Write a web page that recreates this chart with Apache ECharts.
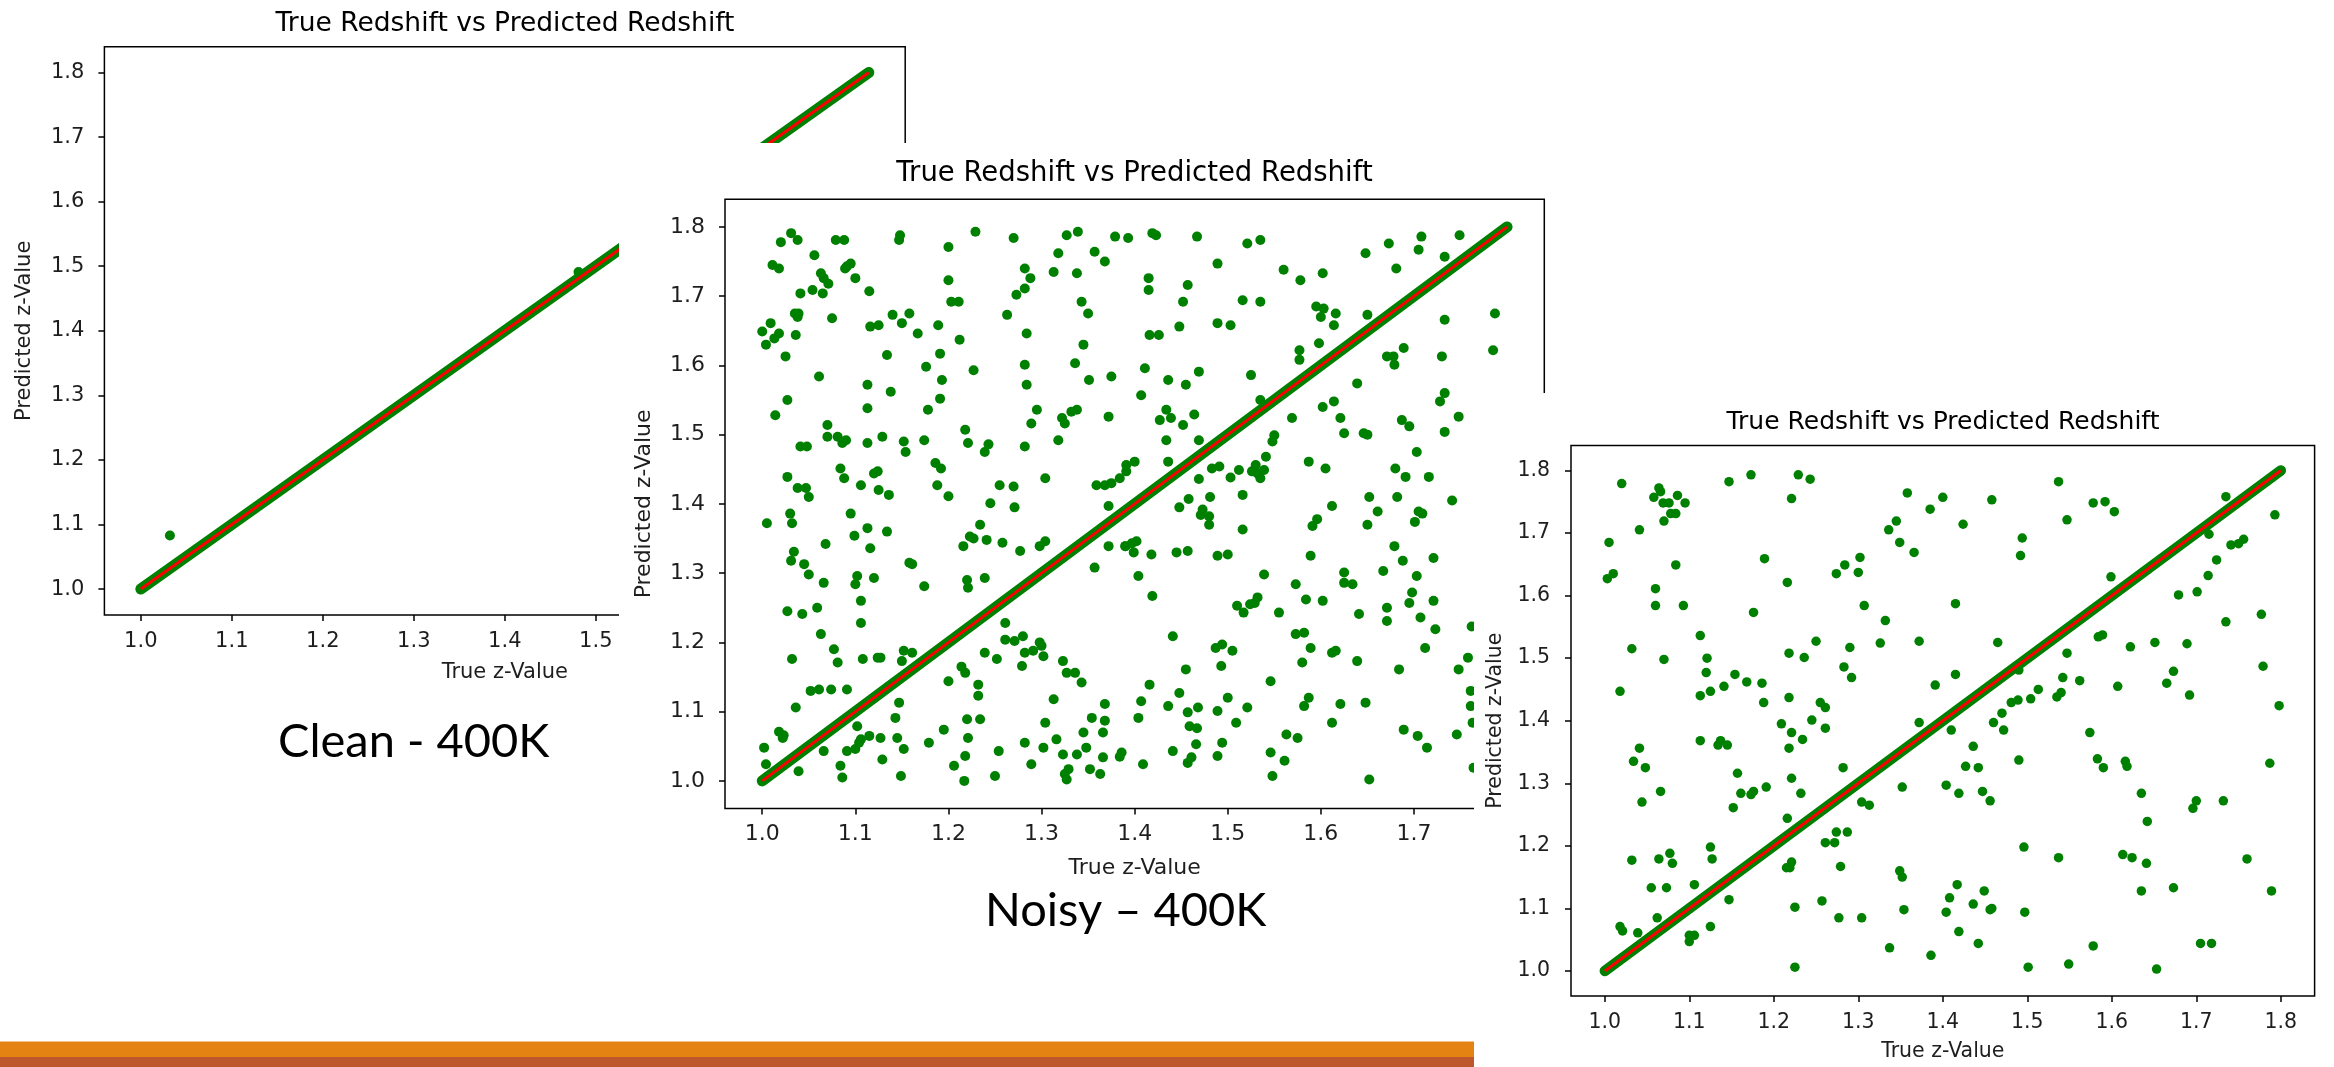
<!DOCTYPE html>
<html>
<head>
<meta charset="utf-8">
<script src="https://cdn.jsdelivr.net/npm/echarts@6/dist/echarts.min.js"></script>
<style>
  html, body { margin:0; padding:0; width:2334px; height:1067px; background:#ffffff; overflow:hidden; }
  .pane { position:absolute; }
</style>
</head>
<body>
<div id="c1" class="pane" style="left:0;top:0;width:1000px;height:720px;z-index:1;"></div>
<div id="c2" class="pane" style="left:619px;top:143px;width:950px;height:750px;z-index:2;background:#fff;"></div>
<div id="c3" class="pane" style="left:1474px;top:393px;width:860px;height:674px;z-index:3;background:#fff;"></div>
<div id="deco" class="pane" style="left:0;top:0;width:2334px;height:1067px;z-index:4;pointer-events:none;"></div>
<script>
// ---------- data ----------
const tickValues = [1.0, 1.1, 1.2, 1.3, 1.4, 1.5, 1.6, 1.7, 1.8];
const titleText = 'True Redshift vs Predicted Redshift';
const xName = 'True z-Value';
const yName = 'Predicted z-Value';
const slideLabels = ['Clean - 400K', 'Noisy \u2013 400K'];

// dense diagonal of predictions (y = x) and the red reference line
const diagonal = [[1.0, 1.0], [1.8, 1.8]];

// outliers, clean set
const cleanOutliers = [[1.032, 1.083], [1.481, 1.491]];

// outliers, noisy set (middle chart)
const noisyOutliers = [
[1.031,1.791],[1.020,1.778],[1.038,1.781],[1.079,1.781],[1.088,1.781],[1.148,1.788],[1.147,1.781],[1.229,1.793],[1.270,1.784],[1.327,1.788],[1.339,1.793],[1.379,1.786],[1.393,1.784],[1.200,1.771],[1.056,1.759],[1.318,1.762],[1.357,1.764],[1.368,1.750],[1.011,1.745],[1.018,1.740],[1.095,1.747],[1.091,1.743],[1.089,1.740],[1.282,1.740],[1.313,1.735],[1.338,1.733],[1.063,1.733],[1.066,1.726],[1.071,1.718],[1.100,1.726],[1.200,1.723],[1.288,1.726],[1.041,1.704],[1.054,1.709],[1.065,1.704],[1.115,1.707],[1.282,1.711],[1.273,1.702],[1.203,1.692],[1.211,1.692],[1.343,1.692],[1.035,1.675],[1.039,1.675],[1.038,1.670],[1.075,1.668],[1.140,1.673],[1.158,1.675],[1.150,1.661],[1.350,1.675],[1.263,1.673],[1.009,1.661],[1.000,1.649],[1.018,1.646],[1.013,1.639],[1.004,1.630],[1.036,1.644],[1.116,1.656],[1.125,1.658],[1.189,1.658],[1.167,1.646],[1.212,1.637],[1.284,1.646],[1.025,1.613],[1.134,1.615],[1.191,1.617],[1.345,1.630],[1.176,1.598],[1.227,1.593],[1.282,1.601],[1.336,1.603],[1.061,1.584],[1.193,1.579],[1.351,1.579],[1.375,1.584],[1.113,1.572],[1.138,1.562],[1.284,1.572],[1.027,1.550],[1.191,1.552],[1.014,1.528],[1.113,1.538],[1.178,1.536],[1.295,1.536],[1.332,1.533],[1.338,1.536],[1.289,1.516],[1.322,1.524],[1.325,1.516],[1.372,1.526],[1.070,1.514],[1.070,1.497],[1.081,1.497],[1.090,1.492],[1.086,1.488],[1.041,1.483],[1.048,1.483],[1.113,1.488],[1.129,1.497],[1.152,1.490],[1.154,1.475],[1.174,1.492],[1.218,1.507],[1.221,1.488],[1.243,1.486],[1.239,1.475],[1.282,1.483],[1.318,1.492],[1.186,1.459],[1.192,1.451],[1.084,1.451],[1.124,1.447],[1.120,1.444],[1.027,1.439],[1.088,1.437],[1.038,1.423],[1.047,1.423],[1.050,1.410],[1.106,1.427],[1.125,1.420],[1.136,1.413],[1.188,1.427],[1.200,1.411],[1.255,1.427],[1.270,1.425],[1.304,1.437],[1.359,1.427],[1.368,1.427],[1.375,1.430],[1.384,1.437],[1.391,1.447],[1.391,1.456],
[1.419,1.791],[1.423,1.788],[1.467,1.786],[1.521,1.776],[1.535,1.781],[1.648,1.762],[1.673,1.776],[1.708,1.786],[1.705,1.767],[1.749,1.788],[1.733,1.757],[1.489,1.747],[1.560,1.738],[1.578,1.723],[1.602,1.733],[1.681,1.740],[1.415,1.726],[1.415,1.709],[1.457,1.716],[1.452,1.692],[1.516,1.694],[1.535,1.692],[1.595,1.685],[1.603,1.682],[1.600,1.670],[1.616,1.675],[1.614,1.658],[1.650,1.673],[1.787,1.675],[1.733,1.666],[1.448,1.656],[1.489,1.661],[1.503,1.658],[1.416,1.644],[1.426,1.644],[1.577,1.622],[1.577,1.608],[1.598,1.632],[1.689,1.625],[1.671,1.613],[1.678,1.613],[1.679,1.601],[1.730,1.613],[1.785,1.622],[1.411,1.596],[1.469,1.591],[1.436,1.579],[1.455,1.572],[1.525,1.586],[1.639,1.574],[1.407,1.557],[1.535,1.550],[1.602,1.540],[1.614,1.548],[1.733,1.560],[1.728,1.548],[1.434,1.536],[1.427,1.521],[1.439,1.524],[1.452,1.514],[1.464,1.529],[1.569,1.524],[1.621,1.524],[1.687,1.521],[1.695,1.512],[1.748,1.526],[1.625,1.502],[1.646,1.502],[1.650,1.500],[1.733,1.504],[1.434,1.492],[1.469,1.492],[1.550,1.499],[1.548,1.490],[1.703,1.475],[1.436,1.461],[1.541,1.468],[1.587,1.461],[1.605,1.451],[1.530,1.456],[1.532,1.444],[1.526,1.447],[1.535,1.437],[1.539,1.449],[1.483,1.451],[1.491,1.454],[1.512,1.449],[1.503,1.438],[1.469,1.436],[1.680,1.451],[1.691,1.439],[1.716,1.439],[1.458,1.407],[1.481,1.410],[1.516,1.413],[1.652,1.410],[1.682,1.410],[1.741,1.405],[1.400,1.461],
[1.030,1.386],[1.005,1.372],[1.032,1.372],[1.095,1.386],[1.245,1.401],[1.271,1.395],[1.372,1.397],[1.113,1.365],[1.099,1.354],[1.134,1.360],[1.234,1.370],[1.068,1.342],[1.116,1.336],[1.034,1.331],[1.031,1.318],[1.045,1.313],[1.050,1.298],[1.216,1.339],[1.223,1.353],[1.227,1.350],[1.241,1.348],[1.258,1.344],[1.277,1.332],[1.298,1.339],[1.304,1.346],[1.372,1.339],[1.390,1.339],[1.158,1.315],[1.161,1.313],[1.357,1.308],[1.066,1.286],[1.102,1.296],[1.100,1.284],[1.120,1.293],[1.174,1.281],[1.220,1.290],[1.221,1.279],[1.239,1.293],[1.106,1.260],[1.027,1.245],[1.043,1.241],[1.059,1.250],[1.106,1.228],[1.063,1.212],[1.261,1.228],[1.077,1.190],[1.032,1.176],[1.081,1.171],[1.108,1.176],[1.124,1.178],[1.127,1.178],[1.152,1.188],[1.161,1.185],[1.150,1.173],[1.239,1.185],[1.252,1.176],[1.261,1.204],[1.271,1.202],[1.280,1.209],[1.282,1.185],[1.291,1.188],[1.298,1.200],[1.300,1.195],[1.302,1.180],[1.279,1.166],[1.214,1.165],[1.218,1.156],[1.323,1.173],[1.327,1.156],[1.336,1.156],[1.343,1.142],[1.200,1.144],[1.232,1.139],[1.232,1.123],[1.052,1.130],[1.061,1.132],[1.074,1.132],[1.091,1.132],[1.036,1.106],[1.147,1.113],[1.313,1.118],[1.368,1.111],[1.143,1.091],[1.220,1.089],[1.234,1.089],[1.304,1.084],[1.354,1.091],[1.368,1.087],[1.018,1.071],[1.023,1.066],[1.022,1.062],[1.102,1.079],[1.115,1.065],[1.106,1.060],[1.104,1.055],[1.127,1.062],[1.145,1.062],[1.195,1.074],[1.221,1.062],[1.345,1.070],[1.366,1.070],[1.002,1.048],[1.066,1.043],[1.091,1.043],[1.100,1.046],[1.152,1.046],[1.179,1.055],[1.282,1.055],[1.302,1.048],[1.316,1.060],[1.348,1.048],[1.254,1.043],[1.004,1.024],[1.039,1.014],[1.084,1.022],[1.086,1.005],[1.129,1.031],[1.149,1.007],[1.206,1.022],[1.218,1.036],[1.217,1.000],[1.250,1.007],[1.289,1.024],[1.323,1.038],[1.338,1.038],[1.329,1.017],[1.325,1.010],[1.327,1.002],[1.352,1.017],[1.363,1.010],[1.366,1.034],[1.384,1.035],[1.386,1.041],
[1.448,1.395],[1.473,1.392],[1.471,1.384],[1.480,1.382],[1.480,1.370],[1.612,1.397],[1.661,1.389],[1.650,1.370],[1.705,1.389],[1.709,1.386],[1.701,1.374],[1.516,1.363],[1.591,1.368],[1.596,1.378],[1.390,1.339],[1.397,1.343],[1.402,1.346],[1.399,1.330],[1.418,1.327],[1.445,1.330],[1.457,1.332],[1.489,1.325],[1.500,1.327],[1.589,1.325],[1.679,1.339],[1.688,1.318],[1.721,1.322],[1.404,1.296],[1.539,1.298],[1.573,1.284],[1.625,1.301],[1.625,1.286],[1.634,1.284],[1.667,1.303],[1.703,1.296],[1.419,1.267],[1.510,1.253],[1.517,1.243],[1.524,1.255],[1.529,1.257],[1.532,1.265],[1.555,1.243],[1.584,1.262],[1.602,1.260],[1.641,1.241],[1.671,1.250],[1.671,1.231],[1.695,1.257],[1.698,1.272],[1.707,1.236],[1.721,1.260],[1.723,1.219],[1.441,1.209],[1.487,1.192],[1.494,1.197],[1.505,1.188],[1.493,1.166],[1.455,1.161],[1.573,1.212],[1.582,1.214],[1.589,1.192],[1.580,1.171],[1.612,1.185],[1.616,1.188],[1.639,1.173],[1.684,1.161],[1.712,1.192],[1.748,1.161],[1.758,1.178],[1.762,1.223],[1.416,1.139],[1.407,1.115],[1.404,1.091],[1.436,1.108],[1.448,1.127],[1.457,1.099],[1.468,1.106],[1.489,1.101],[1.500,1.120],[1.521,1.106],[1.509,1.084],[1.459,1.079],[1.467,1.076],[1.546,1.144],[1.587,1.120],[1.582,1.108],[1.621,1.111],[1.648,1.113],[1.612,1.084],[1.689,1.074],[1.704,1.065],[1.714,1.048],[1.746,1.067],[1.761,1.130],[1.761,1.108],[1.763,1.084],[1.563,1.067],[1.575,1.062],[1.441,1.043],[1.466,1.053],[1.494,1.055],[1.489,1.036],[1.461,1.034],[1.457,1.026],[1.409,1.024],[1.546,1.041],[1.561,1.029],[1.548,1.007],[1.652,1.002],[1.764,1.019]
];

// outliers, right chart
const rightOutliers = [
[1.020,1.779],[1.064,1.772],[1.066,1.766],[1.058,1.757],[1.069,1.748],[1.076,1.748],[1.086,1.760],[1.095,1.748],[1.078,1.731],[1.084,1.731],[1.070,1.719],[1.041,1.705],[1.005,1.685],[1.147,1.782],[1.173,1.793],[1.229,1.793],[1.243,1.786],[1.221,1.755],[1.358,1.764],[1.385,1.738],[1.400,1.757],[1.345,1.719],[1.336,1.705],[1.349,1.685],[1.366,1.669],[1.084,1.649],[1.189,1.659],[1.010,1.635],[1.003,1.627],[1.284,1.649],[1.302,1.661],[1.274,1.635],[1.300,1.637],[1.216,1.621],[1.060,1.611],[1.060,1.584],[1.093,1.584],[1.176,1.573],[1.307,1.584],[1.332,1.560],[1.113,1.536],[1.032,1.515],[1.070,1.498],[1.121,1.500],[1.120,1.477],[1.154,1.474],[1.168,1.462],[1.186,1.460],[1.141,1.455],[1.125,1.447],[1.113,1.440],[1.018,1.447],[1.188,1.429],[1.218,1.437],[1.218,1.508],[1.236,1.501],[1.250,1.527],[1.290,1.517],[1.326,1.524],[1.372,1.527],[1.283,1.486],[1.292,1.469],[1.255,1.429],[1.261,1.421],[1.391,1.457],
[1.537,1.782],[1.458,1.753],[1.424,1.714],[1.578,1.748],[1.592,1.750],[1.603,1.734],[1.547,1.721],[1.494,1.692],[1.492,1.664],[1.735,1.758],[1.793,1.729],[1.715,1.698],[1.741,1.681],[1.750,1.683],[1.756,1.690],[1.724,1.657],[1.714,1.632],[1.599,1.630],[1.679,1.601],[1.701,1.606],[1.415,1.587],[1.777,1.570],[1.735,1.558],[1.584,1.534],[1.589,1.537],[1.465,1.525],[1.622,1.518],[1.651,1.525],[1.689,1.523],[1.547,1.508],[1.490,1.481],[1.415,1.474],[1.779,1.487],[1.673,1.479],[1.542,1.469],[1.562,1.464],[1.665,1.460],[1.607,1.455],[1.513,1.450],[1.540,1.445],[1.535,1.438],[1.504,1.435],[1.489,1.433],[1.481,1.429],[1.692,1.441],[1.798,1.424],[1.470,1.412],
[1.245,1.401],[1.209,1.395],[1.221,1.381],[1.234,1.370],[1.261,1.388],[1.218,1.356],[1.372,1.397],[1.113,1.368],[1.137,1.368],[1.134,1.361],[1.145,1.361],[1.041,1.356],[1.034,1.335],[1.048,1.325],[1.066,1.287],[1.044,1.270],[1.157,1.316],[1.161,1.284],[1.173,1.282],[1.176,1.287],[1.191,1.294],[1.221,1.308],[1.232,1.284],[1.152,1.261],[1.282,1.325],[1.352,1.294],[1.304,1.270],[1.313,1.265],[1.216,1.244],[1.274,1.222],[1.287,1.222],[1.261,1.205],[1.272,1.205],[1.125,1.198],[1.127,1.179],[1.032,1.177],[1.064,1.179],[1.077,1.188],[1.080,1.172],[1.221,1.174],[1.215,1.165],[1.219,1.165],[1.279,1.167],[1.349,1.160],[1.352,1.150],[1.055,1.133],[1.073,1.133],[1.106,1.138],[1.147,1.114],[1.225,1.102],[1.257,1.112],[1.277,1.085],[1.304,1.085],[1.354,1.098],[1.062,1.085],[1.018,1.071],[1.021,1.064],[1.039,1.061],[1.125,1.071],[1.100,1.057],[1.106,1.057],[1.100,1.047],[1.337,1.037],[1.386,1.025],[1.225,1.006],
[1.460,1.397],[1.472,1.385],[1.410,1.385],[1.574,1.381],[1.436,1.359],[1.427,1.327],[1.442,1.325],[1.490,1.337],[1.583,1.339],[1.590,1.325],[1.616,1.335],[1.618,1.327],[1.787,1.332],[1.404,1.297],[1.419,1.284],[1.447,1.287],[1.456,1.272],[1.635,1.284],[1.700,1.272],[1.696,1.260],[1.732,1.272],[1.642,1.239],[1.496,1.198],[1.537,1.181],[1.613,1.186],[1.624,1.181],[1.641,1.172],[1.760,1.179],[1.417,1.138],[1.408,1.117],[1.449,1.128],[1.436,1.107],[1.404,1.094],[1.456,1.098],[1.458,1.100],[1.497,1.094],[1.635,1.128],[1.673,1.133],[1.789,1.128],[1.419,1.063],[1.442,1.044],[1.578,1.040],[1.705,1.044],[1.718,1.044],[1.501,1.006],[1.549,1.011],[1.653,1.003]
];

// ---------- styling ----------
const GREEN = '#008000';
const RED = '#ff0000';
const TXT = '#1e1e1e';
const FONT = "'DejaVu Sans', sans-serif";

function makeOption(c) {
  const axisCommon = {
    type: 'value', min: 0.96, max: 1.84,
    axisLine: { show: false },
    splitLine: { show: false },
    axisTick: { show: true, customValues: tickValues, length: 6, lineStyle: { color: '#000', width: 1.5 } },
    nameLocation: 'middle',
    nameTextStyle: { fontFamily: FONT, fontSize: c.nameSize, color: TXT }
  };
  return {
    animation: false,
    backgroundColor: c.bg,
    title: {
      text: titleText, left: c.titleX, top: c.titleTop, textAlign: 'center', padding: 0,
      textStyle: { fontFamily: FONT, fontSize: c.titleSize, fontWeight: 'normal', color: '#000' }
    },
    grid: { show: true, left: c.left, top: c.top, width: c.width, height: c.height,
            borderColor: '#000', borderWidth: 1.5, backgroundColor: 'transparent', containLabel: false },
    xAxis: Object.assign({}, axisCommon, {
      name: xName, nameGap: c.xNameGap,
      axisLabel: { customValues: tickValues, formatter: v => v.toFixed(1), margin: c.xLabelMargin,
                   fontFamily: FONT, fontSize: c.tickSize, color: TXT }
    }),
    yAxis: Object.assign({}, axisCommon, {
      name: yName, nameGap: c.yNameGap,
      axisLabel: { customValues: tickValues, formatter: v => v.toFixed(1), margin: c.yLabelMargin,
                   fontFamily: FONT, fontSize: c.tickSize, color: TXT }
    }),
    series: [
      { type: 'line', data: diagonal, symbol: 'none', silent: true, z: 2,
        lineStyle: { color: GREEN, width: c.band, cap: 'round' } },
      { type: 'scatter', data: c.points, symbol: 'circle', symbolSize: c.dot, z: 3,
        itemStyle: { color: GREEN, opacity: 1 } },
      { type: 'line', data: diagonal, symbol: 'none', silent: true, z: 4,
        lineStyle: { color: RED, width: 3 } }
    ]
  };
}

const ch1 = echarts.init(document.getElementById('c1'), null, { renderer: 'canvas' });
ch1.setOption(makeOption({
  bg: 'transparent', points: cleanOutliers,
  left: 104.4, top: 46.7, width: 800.8, height: 568.2,
  titleX: 505, titleTop: 10.5, titleSize: 26.5, tickSize: 21, nameSize: 21,
  xLabelMargin: 16, yLabelMargin: 20, xNameGap: 47, yNameGap: 69, dot: 10, band: 11
}));

const ch2 = echarts.init(document.getElementById('c2'), null, { renderer: 'canvas' });
ch2.setOption(makeOption({
  bg: '#ffffff', points: noisyOutliers,
  left: 106, top: 56.2, width: 819.3, height: 609.4,
  titleX: 515.5, titleTop: 17, titleSize: 27.5, tickSize: 22, nameSize: 22,
  xLabelMargin: 15, yLabelMargin: 20, xNameGap: 49, yNameGap: 70, dot: 10, band: 11
}));

const ch3 = echarts.init(document.getElementById('c3'), null, { renderer: 'canvas' });
ch3.setOption(makeOption({
  bg: '#ffffff', points: rightOutliers,
  left: 97, top: 52.4, width: 743.6, height: 555.8,
  titleX: 469, titleTop: 17, titleSize: 25, tickSize: 20.5, nameSize: 20.5,
  xLabelMargin: 16, yLabelMargin: 21, xNameGap: 45, yNameGap: 64, dot: 9.5, band: 10.5
}));

// slide decoration: captions and bottom bar
const deco = echarts.init(document.getElementById('deco'), null, { renderer: 'canvas' });
deco.setOption({
  animation: false,
  backgroundColor: 'transparent',
  graphic: [
    { type: 'rect', left: 0, top: 1041.5, shape: { width: 1474, height: 15.5 }, style: { fill: '#E48312' } },
    { type: 'rect', left: 0, top: 1057, shape: { width: 1474, height: 10 }, style: { fill: '#BC582C' } },
    { type: 'text', x: 278, y: 742, style: { text: slideLabels[0], font: "47px Lato, 'Open Sans', sans-serif",
      fill: '#000', textAlign: 'left', textVerticalAlign: 'middle' } },
    { type: 'text', x: 985, y: 911, style: { text: slideLabels[1], font: "47px Lato, 'Open Sans', sans-serif",
      fill: '#000', textAlign: 'left', textVerticalAlign: 'middle' } }
  ]
});
</script>
</body>
</html>
